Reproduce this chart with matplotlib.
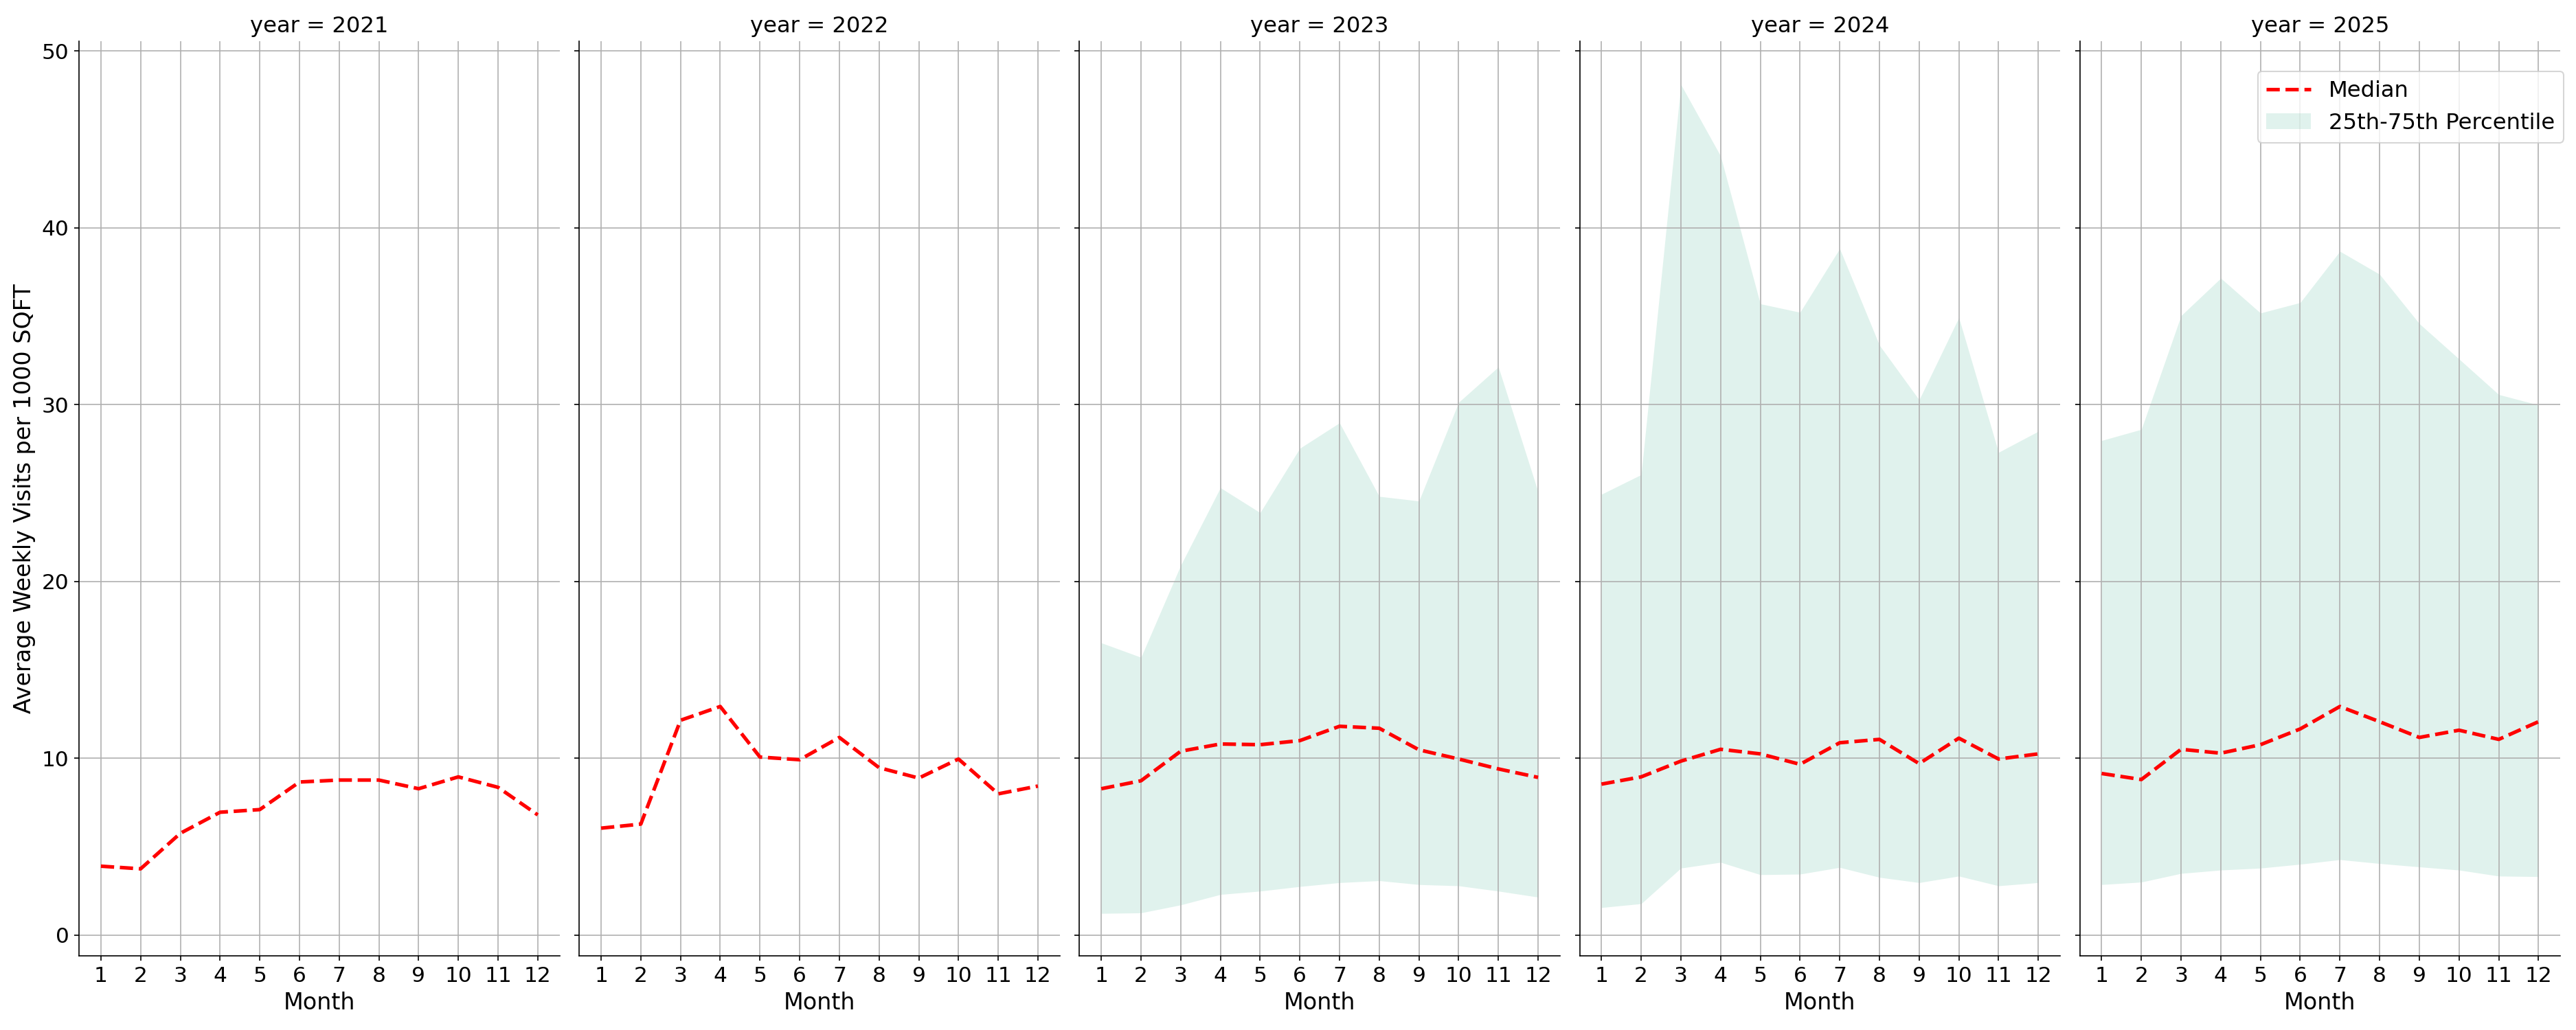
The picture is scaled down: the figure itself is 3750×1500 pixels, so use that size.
import matplotlib
matplotlib.use("Agg")
import matplotlib.pyplot as plt
import numpy as np

months = list(range(1, 13))
years = [2021, 2022, 2023, 2024, 2025]

median_2021 = [3.9, 3.75, 5.76, 6.95, 7.1, 8.66, 8.77, 8.77, 8.28, 8.95, 8.36, 6.8]
median_2022 = [6.05, 6.28, 12.15, 12.93, 10.07, 9.92, 11.18, 9.47, 8.88, 9.96, 7.99, 8.43]
median_2023 = [8.28, 8.73, 10.4, 10.81, 10.77, 11.0, 11.81, 11.7, 10.48, 9.96, 9.4, 8.92]
median_2024 = [8.54, 8.95, 9.84, 10.51, 10.25, 9.66, 10.88, 11.07, 9.7, 11.14, 9.96, 10.25]
median_2025 = [9.14, 8.8, 10.51, 10.29, 10.77, 11.66, 12.93, 12.07, 11.18, 11.59, 11.07, 12.07]

p25_2023 = [1.23, 1.26, 1.71, 2.30, 2.49, 2.75, 2.97, 3.08, 2.86, 2.79, 2.49, 2.15]
p75_2023 = [16.53, 15.71, 20.91, 25.3, 23.89, 27.53, 28.97, 24.81, 24.55, 30.13, 32.13, 25.07]
p25_2024 = [1.56, 1.78, 3.79, 4.12, 3.42, 3.45, 3.83, 3.27, 2.97, 3.34, 2.79, 2.97]
p75_2024 = [24.93, 26.04, 48.1, 44.06, 35.7, 35.22, 38.82, 33.36, 30.27, 34.92, 27.3, 28.49]
p25_2025 = [2.86, 3.0, 3.49, 3.68, 3.79, 4.01, 4.27, 4.05, 3.86, 3.68, 3.34, 3.31]
p75_2025 = [27.97, 28.6, 35.03, 37.15, 35.18, 35.77, 38.67, 37.37, 34.58, 32.58, 30.57, 29.98]

medians = {2021: median_2021, 2022: median_2022, 2023: median_2023,
           2024: median_2024, 2025: median_2025}
bands = {2023: (p25_2023, p75_2023), 2024: (p25_2024, p75_2024),
         2025: (p25_2025, p75_2025)}

fig, axes = plt.subplots(1, 5, figsize=(25, 10), dpi=150, sharey=True)
fig.subplots_adjust(left=0.0307, right=0.9939, bottom=0.072, top=0.96, wspace=0.041)

for ax, yr in zip(axes, years):
    if yr in bands:
        lo, hi = bands[yr]
        ax.fill_between(months, lo, hi, color="#66c2a5", alpha=0.2, linewidth=0,
                        label="25th-75th Percentile")
    ax.plot(months, medians[yr], color="red", linestyle="--", linewidth=2.5, label="Median")
    ax.grid(True, color="#b0b0b0", linewidth=0.8)
    ax.set_xticks(months)
    ax.set_xlim(0.45, 12.55)
    ax.set_ylim(-1.17, 50.55)
    ax.set_yticks([0, 10, 20, 30, 40, 50])
    ax.tick_params(labelsize=15, length=3.5)
    ax.set_title(f"year = {yr}", fontsize=15.5)
    ax.set_xlabel("Month", fontsize=16)
    for s in ("top", "right"):
        ax.spines[s].set_visible(False)

axes[0].set_ylabel("Average Weekly Visits per 1000 SQFT", fontsize=16)

h, l = axes[4].get_legend_handles_labels()
order = [l.index("Median"), l.index("25th-75th Percentile")]
axes[4].legend([h[i] for i in order], [l[i] for i in order], loc="upper right",
               bbox_to_anchor=(1.007, 0.967), borderaxespad=0, fontsize=15.5)

fig.savefig("out.png", dpi=150)
